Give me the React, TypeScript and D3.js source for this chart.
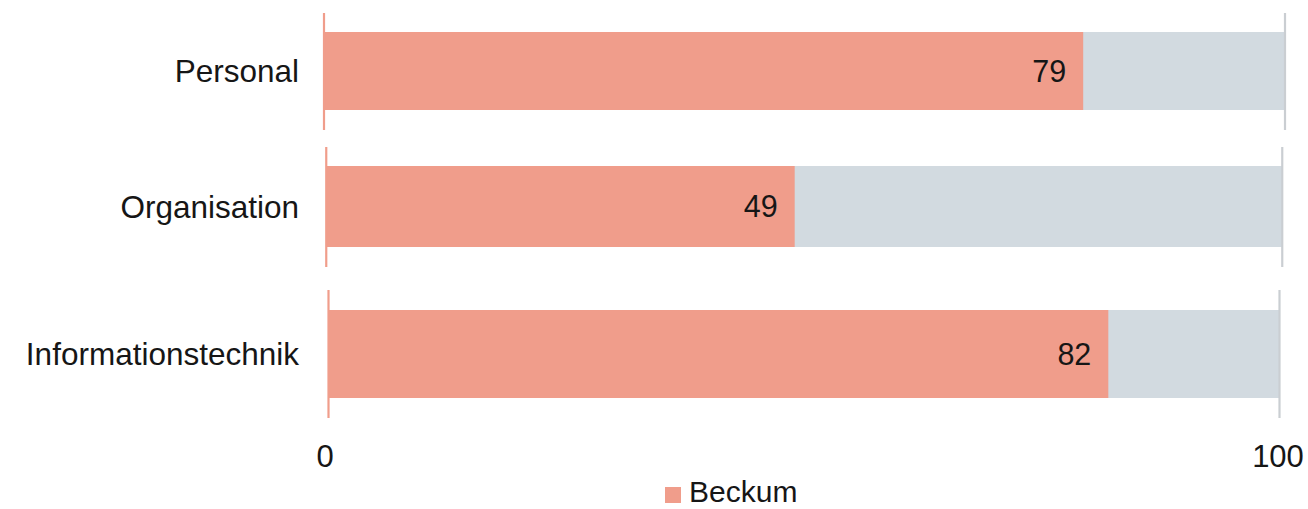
import React from "react";
import * as d3 from "d3";

const categories = ["Personal", "Organisation", "Informationstechnik"];
const values = [79, 49, 82];
const maxValue = 100;
const tickValues = [0, 100];
const seriesName = "Beckum";

const W = 1308;
const H = 509;
const SALMON = "#F09D8B";
const GREY = "#D2DAE0";
const GREY_LINE = "#CACED2";
const TEXT = "#161616";
const FONT = "'Liberation Sans', Arial, sans-serif";

export default function App() {
  const idx = categories.map((_, i) => i);
  // the reference is slightly perspective-skewed: each row gets its own band
  const leftX = d3.scaleLinear().domain([0, 2]).range([324, 328.5]);
  const rightX = d3.scaleLinear().domain([0, 2]).range([1285, 1279.5]);
  const centerY = d3.scaleLinear().domain([0, 1, 2]).range([71, 206.5, 354]);
  const barH = d3.scaleLinear().domain([0, 1, 2]).range([78, 81, 88]);
  const lineTop = d3.scaleLinear().domain([0, 1, 2]).range([13, 147, 290]);
  const lineBot = d3.scaleLinear().domain([0, 1, 2]).range([130, 267, 418]);

  const xFor = (i: number) =>
    d3.scaleLinear().domain([0, maxValue]).range([leftX(i), rightX(i)]);
  const xAxis = d3.scaleLinear().domain([0, maxValue]).range([325, 1278]);

  return (
    <svg
      width={W}
      height={H}
      style={{ position: "absolute", left: 0, top: 0, background: "#fff" }}
      fontFamily={FONT}
    >
      <rect width={W} height={H} fill="#fff" />
      {idx.map((i) => {
        const x = xFor(i);
        const cy = centerY(i);
        const h = barH(i);
        return (
          <g key={categories[i]}>
            <rect x={x(0)} y={cy - h / 2} width={x(maxValue) - x(0)} height={h} fill={GREY} />
            <rect x={x(0)} y={cy - h / 2} width={x(values[i]) - x(0)} height={h} fill={SALMON} />
            <line x1={x(0)} x2={x(0)} y1={lineTop(i)} y2={lineBot(i)} stroke={SALMON} strokeWidth={2.2} />
            <line x1={x(maxValue)} x2={x(maxValue)} y1={lineTop(i)} y2={lineBot(i)} stroke={GREY_LINE} strokeWidth={2.2} />
            <text
              x={x(values[i]) - 17}
              y={cy}
              dy="0.36em"
              textAnchor="end"
              fontSize={30.5}
              fill={TEXT}
            >
              {values[i]}
            </text>
            <text x={299} y={cy} dy="0.35em" textAnchor="end" fontSize={31.5} fill={TEXT}>
              {categories[i]}
            </text>
          </g>
        );
      })}
      {tickValues.map((t) => (
        <text key={t} x={xAxis(t)} y={467} textAnchor="middle" fontSize={31} fill={TEXT}>
          {t}
        </text>
      ))}
      <g>
        <rect x={665} y={487} width={16} height={16} fill={SALMON} />
        <text x={689} y={502} fontSize={30} fill={TEXT}>
          {seriesName}
        </text>
      </g>
    </svg>
  );
}
